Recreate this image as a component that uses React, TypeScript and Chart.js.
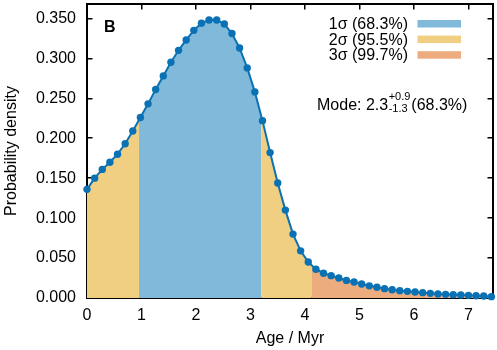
import React, { useEffect, useRef } from 'react';
import { Chart, registerables } from 'chart.js';

Chart.register(...registerables);

// ---- data ----
const ages = [
  0.0, 0.14, 0.28, 0.42, 0.56, 0.7, 0.84, 0.98, 1.12, 1.26, 1.4, 1.54, 1.68, 1.82, 1.96, 2.1, 2.24, 2.38,
  2.52, 2.66, 2.8, 2.94, 3.08, 3.22, 3.36, 3.5, 3.64, 3.78, 3.92, 4.06, 4.2, 4.34, 4.48, 4.62, 4.76, 4.9,
  5.04, 5.18, 5.32, 5.46, 5.6, 5.74, 5.88, 6.02, 6.16, 6.3, 6.44, 6.58, 6.72, 6.86, 7.0, 7.14, 7.28, 7.42,
];
const density = [
  0.136, 0.15, 0.161, 0.17, 0.18, 0.193, 0.209, 0.226, 0.243, 0.261,
  0.278, 0.295, 0.31, 0.323, 0.335, 0.344, 0.348, 0.348, 0.343, 0.331,
  0.313, 0.288, 0.258, 0.222, 0.182, 0.144, 0.11, 0.08, 0.059, 0.045,
  0.036, 0.031, 0.028, 0.025, 0.022, 0.02, 0.0175, 0.0152, 0.0134, 0.0117,
  0.0104, 0.0092, 0.0083, 0.0075, 0.0067, 0.0058, 0.005, 0.0046, 0.0042, 0.0037,
  0.0033, 0.0029, 0.0025, 0.0017,
];
const xTicks = [0, 1, 2, 3, 4, 5, 6, 7];
const yTicks = [0, 0.05, 0.1, 0.15, 0.2, 0.25, 0.3, 0.35];
const xRange = [0, 7.45];
const yRange = [0, 0.368];

const BLUE = '#80b9da';
const YELLOW = '#f0cf82';
const ORANGE = '#edac7d';
const LINE = '#0a72b4';

// shaded credible-interval bands along the age axis
const bandEdges = [0, 0.955, 3.2, 4.12, 7.45];
const bandColors = [YELLOW, BLUE, YELLOW, ORANGE];

const legendLabels = ['1\u03c3 (68.3%)', '2\u03c3 (95.5%)', '3\u03c3 (99.7%)'];
const legendColors = [BLUE, YELLOW, ORANGE];

const modeLabel = 'Mode: ';
const modeValue = '2.3';
const modePlus = '+0.9';
const modeMinus = '-1.3';
const modeLevel = '(68.3%)';
const panelLabel = 'B';

const FAMILY = "'Liberation Sans', Arial, Helvetica, sans-serif";
const TICK_IN = -5.5;

const decorPlugin = {
  id: 'decor',
  beforeDatasetsDraw(chart: any) {
    const ctx = chart.ctx;
    const xs = chart.scales.x;
    const ys = chart.scales.y;
    const pts = chart.getDatasetMeta(0).data;
    const y0 = ys.getPixelForValue(0);
    const yTop = ys.getPixelForValue(yRange[1]);
    for (let i = 0; i < bandColors.length; i++) {
      const a = xs.getPixelForValue(bandEdges[i]);
      const b = xs.getPixelForValue(bandEdges[i + 1]);
      ctx.save();
      ctx.beginPath();
      ctx.rect(a, yTop, b - a, y0 - yTop);
      ctx.clip();
      ctx.beginPath();
      ctx.moveTo(pts[0].x, y0);
      pts.forEach((p: any) => ctx.lineTo(p.x, p.y));
      ctx.lineTo(pts[pts.length - 1].x, y0);
      ctx.closePath();
      ctx.fillStyle = bandColors[i];
      ctx.fill();
      ctx.restore();
    }
  },
  afterDraw(chart: any) {
    const ctx = chart.ctx;
    ctx.save();
    ctx.fillStyle = '#000';
    // panel label
    ctx.font = `bold 16px ${FAMILY}`;
    ctx.textAlign = 'left';
    ctx.textBaseline = 'alphabetic';
    ctx.fillText(panelLabel, 104, 32);
    // legend
    ctx.font = `16px ${FAMILY}`;
    legendLabels.forEach((lab, i) => {
      const base = 29 + i * 15.6;
      ctx.fillStyle = '#000';
      ctx.textAlign = 'right';
      ctx.fillText(lab, 408, base);
      ctx.fillStyle = legendColors[i];
      ctx.fillRect(417.5, base - 9, 43.5, 7.5);
    });
    // mode annotation
    ctx.fillStyle = '#000';
    ctx.textAlign = 'left';
    const by = 109.5;
    let xx = 317;
    ctx.font = `16px ${FAMILY}`;
    const main = modeLabel + modeValue;
    ctx.fillText(main, xx, by);
    xx += ctx.measureText(main).width + 0.5;
    ctx.font = `11px ${FAMILY}`;
    ctx.fillText(modePlus, xx, by - 9.5);
    ctx.fillText(modeMinus, xx, by + 2);
    xx += Math.max(ctx.measureText(modePlus).width, ctx.measureText(modeMinus).width) + 1;
    ctx.font = `16px ${FAMILY}`;
    ctx.fillText(modeLevel, xx, by);
    ctx.restore();
  },
};

export default function App() {
  const ref = useRef<HTMLCanvasElement | null>(null);
  useEffect(() => {
    document.body.style.margin = '0';
    const canvas = ref.current;
    if (!canvas) return;
    const font = { family: FAMILY, size: 16 };
    const frameGrid = {
      display: true,
      drawOnChartArea: false,
      drawTicks: true,
      tickLength: TICK_IN,
      color: '#000000',
      lineWidth: 1.5,
    };
    const frameBorder = { display: true, color: '#000000', width: 2 };
    const chart = new Chart(canvas, {
      type: 'line',
      data: {
        datasets: [
          {
            data: ages.map((a, i) => ({ x: a, y: density[i] })),
            borderColor: LINE,
            borderWidth: 2,
            backgroundColor: LINE,
            pointBackgroundColor: LINE,
            pointBorderWidth: 0,
            pointRadius: 3.7,
            tension: 0,
            fill: false,
            clip: false as any,
          },
        ],
      },
      options: {
        animation: false,
        responsive: false,
        devicePixelRatio: 1,
        events: [],
        layout: { padding: { top: 3, right: 2.5, bottom: 0, left: 0 } },
        plugins: { legend: { display: false }, tooltip: { enabled: false }, title: { display: false } },
        scales: {
          x: {
            type: 'linear',
            position: 'bottom',
            min: xRange[0],
            max: xRange[1],
            afterBuildTicks: (s: any) => {
              s.ticks = xTicks.map((v) => ({ value: v }));
            },
            afterFit: (s: any) => {
              s.height = 52;
              s.paddingLeft = 0;
              s.paddingRight = 0;
            },
            grid: frameGrid,
            border: frameBorder,
            ticks: {
              color: '#000',
              font,
              padding: 8.4 - TICK_IN,
              maxRotation: 0,
              autoSkip: false,
              callback: (v: any) => String(v),
            },
            title: { display: true, text: 'Age / Myr', color: '#000', font, padding: { top: 0, bottom: 1.4 } },
          },
          x2: {
            type: 'linear',
            axis: 'x',
            position: 'top',
            min: xRange[0],
            max: xRange[1],
            afterBuildTicks: (s: any) => {
              s.ticks = xTicks.map((v) => ({ value: v }));
            },
            afterFit: (s: any) => {
              s.height = 0;
              s.paddingLeft = 0;
              s.paddingRight = 0;
            },
            grid: frameGrid,
            border: frameBorder,
            ticks: { display: false },
          },
          y: {
            type: 'linear',
            position: 'left',
            min: yRange[0],
            max: yRange[1],
            afterBuildTicks: (s: any) => {
              s.ticks = yTicks.map((v) => ({ value: v }));
            },
            afterFit: (s: any) => {
              s.width = 87;
              s.paddingTop = 0;
              s.paddingBottom = 0;
            },
            grid: frameGrid,
            border: frameBorder,
            ticks: {
              color: '#000',
              font,
              padding: 11 - TICK_IN,
              autoSkip: false,
              callback: (v: any) => Number(v).toFixed(3),
            },
            title: {
              display: true,
              text: 'Probability density',
              color: '#000',
              font,
              padding: { top: 2.4, bottom: 0 },
            },
          },
          y2: {
            type: 'linear',
            axis: 'y',
            position: 'right',
            min: yRange[0],
            max: yRange[1],
            afterBuildTicks: (s: any) => {
              s.ticks = yTicks.map((v) => ({ value: v }));
            },
            afterFit: (s: any) => {
              s.width = 0;
              s.paddingTop = 0;
              s.paddingBottom = 0;
            },
            grid: frameGrid,
            border: frameBorder,
            ticks: { display: false },
          },
        },
      } as any,
      plugins: [decorPlugin],
    });
    return () => chart.destroy();
  }, []);
  return (
    <div style={{ width: 497, height: 350 }}>
      <canvas ref={ref} width={497} height={350} style={{ display: 'block' }} />
    </div>
  );
}
